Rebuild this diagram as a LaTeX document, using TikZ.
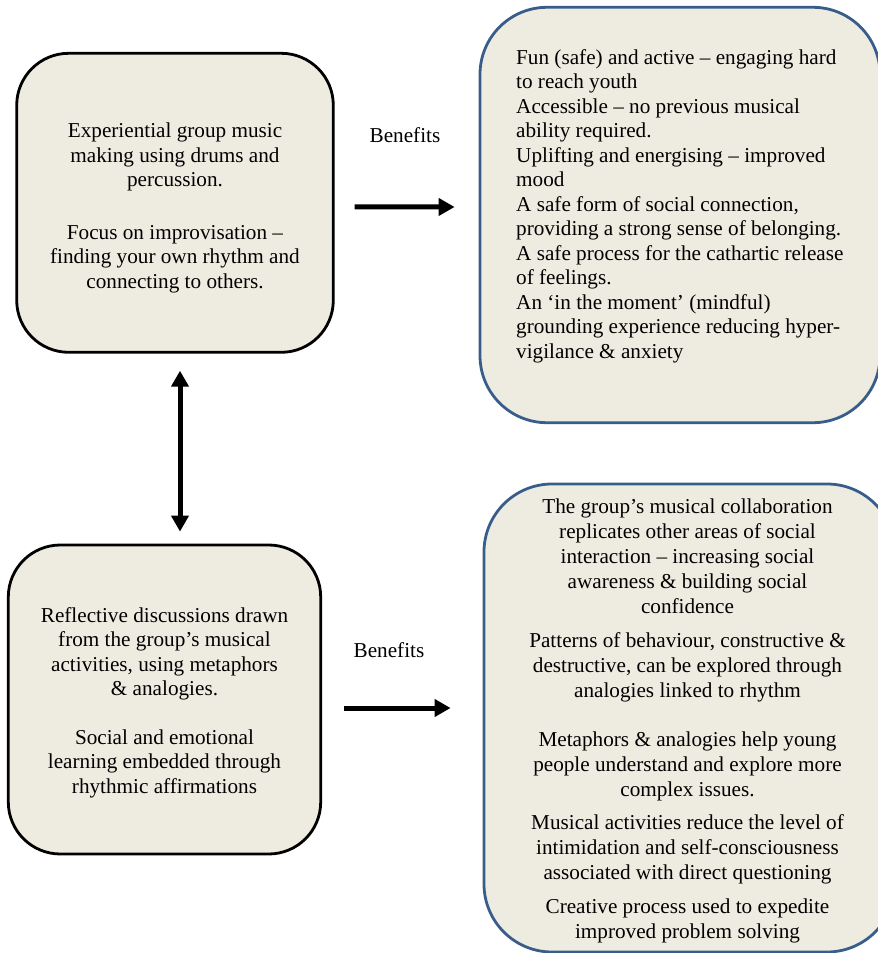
\documentclass[tikz,border=0pt]{standalone}
\usepackage{fontspec}
\setmainfont{Liberation Serif}
\usetikzlibrary{arrows.meta,calc}
\definecolor{boxfill}{HTML}{EEECE1}
\definecolor{boxblue}{HTML}{385D8A}
\begin{document}
\begin{tikzpicture}[x=1pt,y=-1pt]
    % Define styles
    \tikzset{
        boxtext/.style={font=\fontsize{21.2}{24.5}\selectfont, inner sep=0pt},
        blackbox/.style={draw=black, line width=2.8pt, fill=boxfill, rounded corners=52pt, inner sep=0pt},
        bluebox/.style={draw=boxblue, line width=2.8pt, fill=boxfill, rounded corners=67pt, inner sep=0pt},
        bigarrow/.style={line width=5pt, -{Triangle[length=16pt,width=17pt]}},
        bothways/.style={line width=5pt, {Triangle[length=16pt,width=17pt]}-{Triangle[length=16pt,width=17pt]}}
    }
    \useasboundingbox (0,0) rectangle (878,953);
    \clip (0,0) rectangle (878,953);

    % Left boxes
    \node[blackbox, minimum width=316.6pt, minimum height=299pt] (making) at (175,202.8) {};
    \node[boxtext, align=center] (makingText) at (175,208)
        {Experiential group music\\making using drums and\\percussion.\\[28pt]Focus on improvisation –\\finding your own rhythm and\\connecting to others.};
    \node[blackbox, minimum width=312.4pt, minimum height=309pt] (reflect) at (164.5,699.5) {};
    \node[boxtext, align=center] (reflectText) at (164.5,702.5)
        {Reflective discussions drawn\\from the group’s musical\\activities, using metaphors\\\& analogies.\\[24pt]Social and emotional\\learning embedded through\\rhythmic affirmations};

    % Right boxes
    \node[bluebox, minimum width=400pt, minimum height=415.4pt] (benefitsA) at (680,215) {};
    \node[boxtext, align=left, anchor=west] (benefitsAText) at (516,206)
        {Fun (safe) and active – engaging hard\\to reach youth\\Accessible – no previous musical\\ability required.\\Uplifting and energising – improved\\mood\\A safe form of social connection,\\providing a strong sense of belonging.\\A safe process for the cathartic release\\of feelings.\\An ‘in the moment’ (mindful)\\grounding experience reducing hyper-\\vigilance \& anxiety};
    \node[bluebox, rounded corners=68pt, minimum width=411pt, minimum height=468pt] (benefitsB) at (689.5,718) {};
    \node[boxtext, align=center, font=\fontsize{21.2}{25}\selectfont] (benefitsBText) at (687.5,721)
        {The group’s musical collaboration\\replicates other areas of social\\interaction – increasing social\\awareness \& building social\\confidence\\[9pt]Patterns of behaviour, constructive \&\\destructive, can be explored through\\analogies linked to rhythm\\[24pt]Metaphors \& analogies help young\\people understand and explore more\\complex issues.\\[8.5pt]Musical activities reduce the level of\\intimidation and self-consciousness\\associated with direct questioning\\[9pt]Creative process used to expedite\\improved problem solving};

    % Labels
    \node[boxtext] (labelA) at (405,135) {Benefits};
    \node[boxtext] (labelB) at (389,650) {Benefits};

    % Arrows
    \draw[bigarrow] ($(making.east)+(20,4)$) -- ($(benefitsA.west)+(-24,-8)$);
    \draw[bigarrow] ($(reflect.east)+(22,8.5)$) -- ($(benefitsB.west)+(-32,-10)$);
    \draw[bothways] ($(making.south)+(5,17)$) -- ($(reflect.north)+(15.5,-12)$);
\end{tikzpicture}
\end{document}
